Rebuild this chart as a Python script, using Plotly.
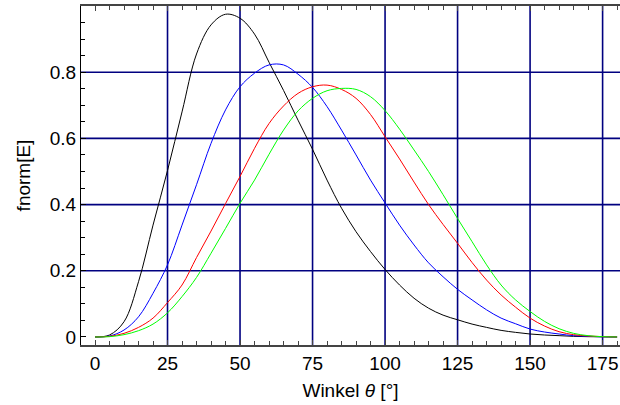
import plotly.graph_objects as go

theta = list(range(0, 181, 5))

black = [0.0, 0.006, 0.046, 0.167, 0.338, 0.503, 0.68, 0.855, 0.943, 0.975,
         0.963, 0.915, 0.83, 0.745, 0.655, 0.567, 0.474, 0.389, 0.318, 0.258,
         0.204, 0.157, 0.117, 0.087, 0.066, 0.052, 0.039, 0.029, 0.020, 0.014,
         0.009, 0.006, 0.004, 0.002, 0.001, 0.0005, 0.0]

blue = [0.0, 0.003, 0.021, 0.061, 0.132, 0.218, 0.338, 0.46, 0.585, 0.686,
        0.756, 0.797, 0.822, 0.822, 0.794, 0.754, 0.696, 0.625, 0.55, 0.474,
        0.405, 0.338, 0.278, 0.224, 0.182, 0.144, 0.112, 0.082, 0.057, 0.040,
        0.024, 0.015, 0.009, 0.004, 0.002, 0.0005, 0.0]

red = [0.0, 0.002, 0.011, 0.029, 0.057, 0.104, 0.157, 0.24, 0.32, 0.403,
       0.485, 0.570, 0.645, 0.698, 0.736, 0.756, 0.761, 0.748, 0.721, 0.672,
       0.605, 0.538, 0.468, 0.40, 0.34, 0.283, 0.225, 0.172, 0.127, 0.090,
       0.057, 0.033, 0.016, 0.007, 0.003, 0.001, 0.0]

green = [0.0, 0.001, 0.007, 0.019, 0.039, 0.073, 0.122, 0.18, 0.253, 0.328,
         0.404, 0.474, 0.552, 0.625, 0.683, 0.721, 0.744, 0.751, 0.748, 0.726,
         0.684, 0.628, 0.565, 0.500, 0.43, 0.358, 0.288, 0.218, 0.157, 0.112,
         0.077, 0.047, 0.025, 0.011, 0.004, 0.001, 0.0]

series = [("black", black), ("#0000ff", blue), ("#ff0000", red), ("#00ff00", green)]

x_ticks = [0, 25, 50, 75, 100, 125, 150, 175]
y_ticks = [0, 0.2, 0.4, 0.6, 0.8]
y_ticklabels = ["0", "0.2", "0.4", "0.6", "0.8"]

fig = go.Figure()

GRID = "#000080"
shapes = []
for v in x_ticks:
    if v != 0:
        shapes.append(dict(type="line", xref="x", yref="paper", x0=v, x1=v, y0=0, y1=1,
                           line=dict(color=GRID, width=1.6), layer="below"))
for v in y_ticks:
    if v != 0:
        shapes.append(dict(type="line", xref="paper", yref="y", x0=0, x1=1, y0=v, y1=v,
                           line=dict(color=GRID, width=1.6), layer="below"))

for color, vals in series:
    fig.add_trace(go.Scatter(x=theta, y=vals, mode="lines",
                             line=dict(color=color, width=1, shape="spline", smoothing=1.0),
                             showlegend=False, hoverinfo="skip"))

font = dict(family="Liberation Sans, Arial, sans-serif", size=19, color="black")

fig.update_layout(
    width=620, height=405,
    margin=dict(l=81, r=0, t=6, b=60),
    paper_bgcolor="white", plot_bgcolor="white",
    font=font,
    shapes=shapes,
    xaxis=dict(
        range=[-4.83, 181.0],
        automargin=False,
        tickvals=x_ticks, ticktext=[str(v) for v in x_ticks],
        ticks="inside", ticklen=5, tickcolor="#444",
        showgrid=False,
        zeroline=False,
        showline=True, linecolor="#444", linewidth=2,
        mirror="ticks",
        minor=dict(dtick=5, tick0=0, ticks="inside", ticklen=4, tickcolor="#444", showgrid=False),
        title=dict(text="Winkel <i>θ</i> [°]", font=font, standoff=11),
        tickfont=font,
    ),
    yaxis=dict(
        range=[-0.0242, 1.0],
        automargin=False,
        tickvals=y_ticks, ticktext=y_ticklabels,
        ticks="inside", ticklen=5, tickcolor="black",
        showgrid=False,
        zeroline=False,
        showline=True, linecolor="black", linewidth=1,
        minor=dict(dtick=0.05, tick0=0, ticks="inside", ticklen=4, tickcolor="black", showgrid=False),
        title=dict(text="fnorm[E]", font=font, standoff=14),
        tickfont=font,
    ),
)

fig.write_html("out.html", config={"displayModeBar": False},
               post_script="document.body.style.margin='0';")
